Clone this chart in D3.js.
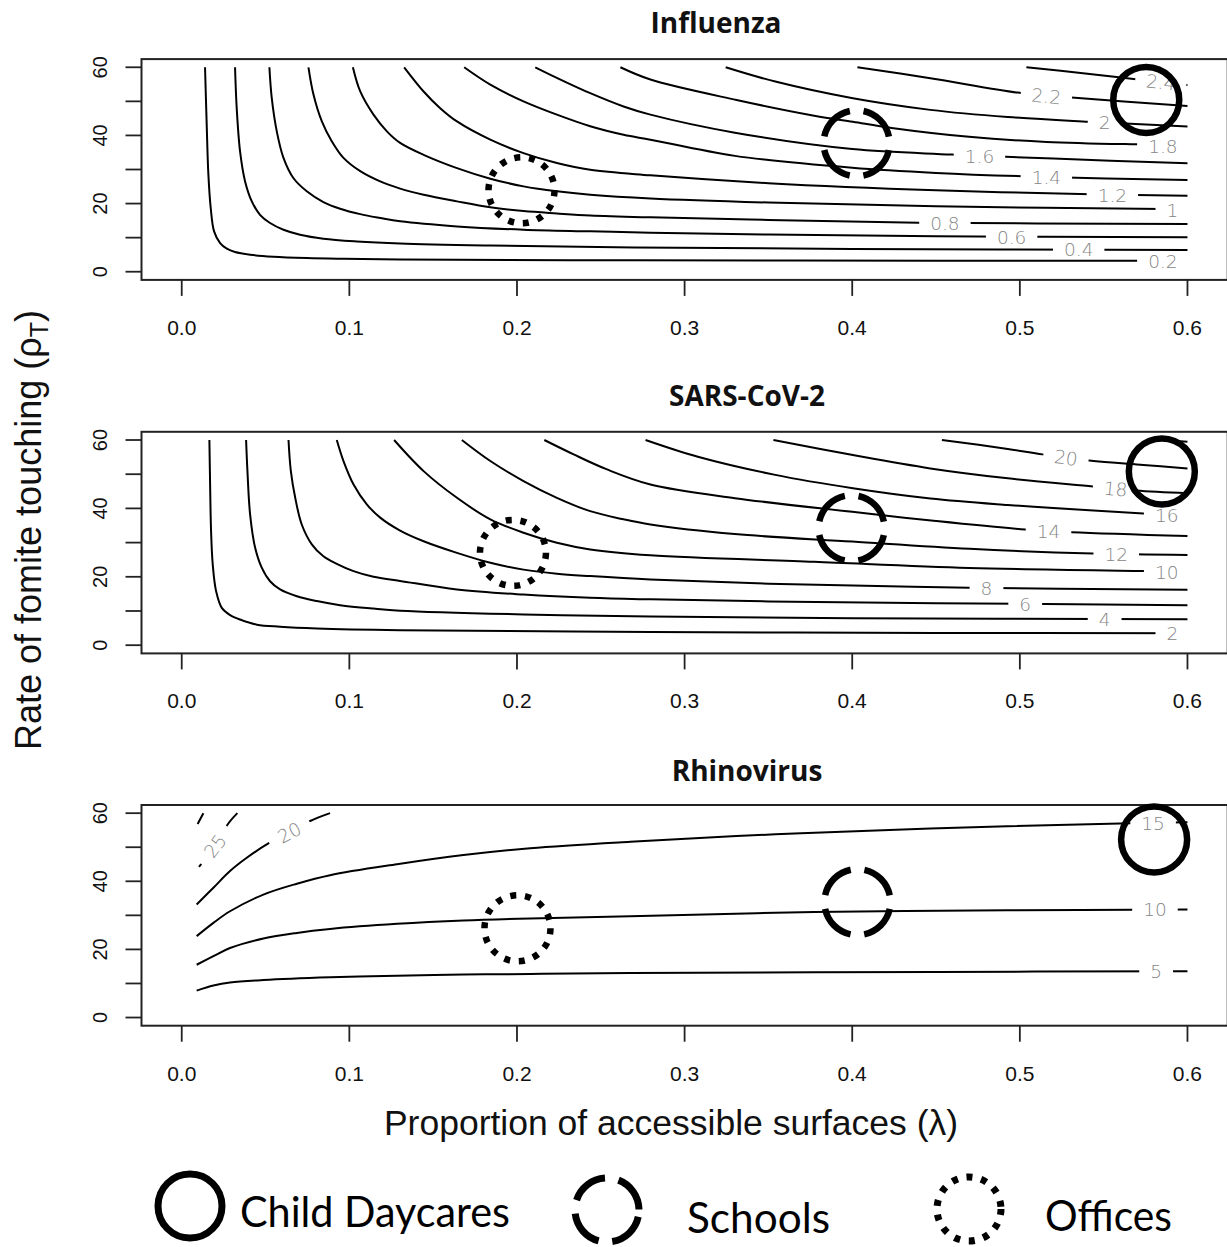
<!DOCTYPE html>
<html><head><meta charset="utf-8">
<script src="https://cdn.jsdelivr.net/npm/d3@7"></script>
<style>body{margin:0;background:#fff}svg{display:block}</style>
</head><body>
<svg id="c" width="1227" height="1247"></svg>
<script>
// ---------------- data ----------------
const xTicks = [0, 0.1, 0.2, 0.3, 0.4, 0.5, 0.6];
const yTicks = [0, 10, 20, 30, 40, 50, 60];
const yTickLabels = [0, 20, 40, 60];
const panelTitles = ["Influenza", "SARS-CoV-2", "Rhinovirus"];
const settingNames = ["Child Daycares", "Schools", "Offices"];
const xAxisTitle = "Proportion of accessible surfaces (\u03bb)";

// Influenza contours: [lambda, rho] points per level
const fluLevels = [0.2, 0.4, 0.6, 0.8, 1, 1.2, 1.4, 1.6, 1.8, 2, 2.2, 2.4];
const fluLines = [
  [[.0139,60],[.0149,43.1],[.0159,28.5],[.0173,18.7],[.0193,11.85],[.0229,8.4],[.0269,6.76],[.0318,5.78],[.0408,5.0],[.0547,4.4],[.0746,4.0],[.0945,3.8],[.1303,3.6],[.27,3.35],[.45,3.25],[.6,3.2]],
  [[.0318,60],[.0328,48.0],[.0348,35.3],[.0378,26.5],[.0418,20.65],[.0467,16.7],[.0527,14.3],[.0607,12.33],[.0706,10.87],[.0845,9.7],[.1045,8.9],[.1303,8.3],[.1841,7.7],[.27,7.1],[.4,6.7],[.6,6.4]],
  [[.0523,60],[.0537,51.0],[.0567,41.2],[.0607,33.4],[.0666,27.5],[.0746,23.6],[.0845,20.45],[.0945,18.5],[.1065,16.9],[.1184,15.76],[.1303,14.78],[.1642,13.3],[.2039,12.33],[.2437,11.85],[.2796,11.45],[.35,10.9],[.45,10.4],[.6,10.1]],
  [[.0756,60],[.0786,52.0],[.0836,44.1],[.0895,38.3],[.0965,33.4],[.1065,29.5],[.1184,26.5],[.1303,24.4],[.1443,22.6],[.1642,20.65],[.1841,18.9],[.2039,17.8],[.2238,17.1],[.2437,16.5],[.2796,15.95],[.35,15.2],[.4396,14.4],[.6,14.0]],
  [[.1021,60],[.1065,52.9],[.1144,46.1],[.1224,41.2],[.1303,37.8],[.1443,34.3],[.1642,30.4],[.1841,27.3],[.2039,25.05],[.2238,23.6],[.2437,22.6],[.2796,21.5],[.35,20.3],[.45,19.2],[.6,18.3]],
  [[.1327,60],[.1443,52.9],[.1542,48.0],[.1642,44.1],[.1841,38.75],[.2039,34.8],[.2238,31.9],[.2437,29.9],[.2796,28.3],[.35,26.0],[.45,23.9],[.555,22.6],[.6,22.3]],
  [[.1685,60],[.1841,54.9],[.2039,50.0],[.2238,46.1],[.2437,42.7],[.2636,40.2],[.2796,38.75],[.33,34.0],[.40,30.5],[.45,29.0],[.5158,27.8],[.6,26.9]],
  [[.2109,60],[.2238,56.9],[.2437,52.4],[.2636,48.5],[.2796,46.1],[.33,40.8],[.40,36.0],[.4593,34.4],[.52,33.2],[.6,31.8]],
  [[.2617,60],[.2796,56.4],[.331,50.4],[.3773,45.8],[.4004,44.0],[.4235,42.2],[.4697,39.6],[.5159,38.1],[.5691,37.4],[.6,37.2]],
  [[.3245,60],[.3541,55.8],[.4004,50.9],[.4466,47.5],[.4928,45.4],[.5413,44.0],[.6,42.6]],
  [[.4031,60],[.4466,56.8],[.4998,52.5],[.5309,51.1],[.6,48.6]],
  [[.5039,60],[.5390,58.2],[.5691,56.5],[.6,54.8]]
];
const fluLabelAt = [[.5853,3.1],[.5351,6.5],[.4951,10.2],[.4553,14.3],[.5910,18.1],[.5552,22.5],[.5158,27.7],[.4759,34.0],[.5853,36.9],[.5506,43.7],[.5158,51.5],[.5841,55.6]];
const fluSettings = [[.5754,50.4],[.4026,37.7],[.2027,23.9]];

// SARS-CoV-2 contours
const covLevels = [2, 4, 6, 8, 10, 12, 14, 16, 18, 20, 22];
const covLines = [
  [[.0165,60],[.0169,48.0],[.0175,33.4],[.0185,23.6],[.0205,15.8],[.0239,10.9],[.0289,8.8],[.0348,7.5],[.0448,6.0],[.0587,5.4],[.0806,4.9],[.1303,4.4],[.28,3.85],[.45,3.6],[.6,3.5]],
  [[.0384,60],[.0392,50.9],[.0408,38.2],[.0438,28.5],[.0478,22.6],[.0527,18.7],[.0587,16.3],[.0687,14.3],[.0806,12.9],[.0945,11.7],[.1144,10.7],[.1303,10.1],[.2039,9.0],[.2796,8.4],[.40,7.9],[.6,7.6]],
  [[.0637,60],[.0651,50.9],[.0677,43.1],[.0716,35.3],[.0776,29.5],[.0845,26.0],[.0925,23.8],[.1025,21.65],[.1144,20.0],[.1303,18.8],[.1642,16.3],[.2039,14.8],[.2437,13.85],[.2796,13.4],[.35,12.8],[.45,12.3],[.6,11.7]],
  [[.0925,60],[.0965,53.85],[.1025,47.0],[.1104,41.2],[.1184,37.3],[.13,33.6],[.1443,30.4],[.1642,27.0],[.1841,24.1],[.2039,22.1],[.2238,20.9],[.2437,20.2],[.2796,19.2],[.35,18.0],[.4697,16.8],[.6,16.2]],
  [[.1267,60],[.1443,50.9],[.1642,43.1],[.1841,36.8],[.2039,32.9],[.2238,29.95],[.2437,28.0],[.2796,26.3],[.3773,24.4],[.4697,22.6],[.5737,21.7],[.6,21.5]],
  [[.1671,60],[.1841,53.85],[.2039,48.0],[.2238,43.1],[.2437,39.2],[.2636,36.8],[.2796,35.3],[.33,32.5],[.40,30.3],[.47,28.2],[.5436,26.8],[.6,26.4]],
  [[.2163,60],[.2338,55.8],[.2537,51.4],[.2796,47.0],[.33,43.0],[.40,39.0],[.45,36.3],[.5032,33.8],[.5309,33.0],[.6,31.9]],
  [[.2767,60],[.3079,55.1],[.3541,49.8],[.4004,45.9],[.4466,42.9],[.4928,41.0],[.539,39.5],[.5737,38.5],[.6,37.8]],
  [[.353,60],[.4004,55.6],[.4466,51.7],[.4928,48.8],[.5436,46.4],[.5691,45.2],[.6,44.4]],
  [[.4535,60],[.4928,57.4],[.5136,55.8],[.5413,54.0],[.5737,52.7],[.6,51.7]],
  [[.5853,60],[.6,59.5]]
];
const covLabelAt = [[.5910,3.4],[.5506,7.6],[.5032,12.0],[.4801,16.7],[.5876,21.4],[.5575,26.6],[.5171,33.3],[.5876,37.9],[.5571,45.7],[.5275,54.8],null];
const covSettings = [[.5847,50.8],[.3996,34.2],[.1976,27.0]];

// Rhinovirus contours
const rhiLevels = [5, 10, 15, 20, 25, 30];
const rhiLines = [
  [[.0089,7.9],[.0189,9.4],[.0288,10.3],[.0487,11.0],[.0885,11.8],[.1284,12.3],[.1681,12.6],[.2079,12.8],[.2676,13.1],[.45,13.4],[.6,13.6]],
  [[.0089,15.5],[.0189,18.0],[.0288,20.4],[.0487,23.2],[.0687,24.85],[.0885,26.0],[.1284,27.5],[.1681,28.5],[.2079,29.1],[.2676,29.7],[.3773,31.0],[.4928,31.5],[.6,31.7]],
  [[.0089,23.9],[.0189,27.8],[.0288,31.2],[.0487,36.1],[.0687,39.3],[.0885,41.8],[.1284,45.0],[.1681,47.7],[.2079,49.7],[.2676,51.6],[.3541,53.8],[.4466,55.5],[.5598,57.0],[.6,57.3]],
  [[.0089,33.2],[.0189,38.1],[.0288,43.0],[.0388,46.9],[.0517,51.1],[.0643,54.3],[.0766,57.7],[.0885,60]],
  [[.0103,44.2],[.0199,50.4],[.0278,56.96],[.0332,60]],
  [[.0095,56.8],[.0129,60]]
];
const rhiLabelAt = [[.5813,13.5],[.5806,31.7],[.5795,57.1],[.0643,54.3],[.0199,50.4],null];
const rhiSettings = [[.5801,52.3],[.4031,33.9],[.2003,26.2]];

// ---------------- layout ----------------
const svg = d3.select("#c");
const FONT = "'Liberation Sans', Arial, sans-serif";
const x = d3.scaleLinear().domain([-0.024, 0.624]).range([141.5, 1227.7]);

const panels = [
  {title: panelTitles[0], levels: fluLevels, lines: fluLines, labelAt: fluLabelAt, marks: fluSettings, top: 59.1, bottom: 279.9, tx: 716, ty: 33},
  {title: panelTitles[1], levels: covLevels, lines: covLines, labelAt: covLabelAt, marks: covSettings, top: 431.8, bottom: 653.4, tx: 747, ty: 406},
  {title: panelTitles[2], levels: rhiLevels, lines: rhiLines, labelAt: rhiLabelAt, marks: rhiSettings, top: 805, bottom: 1025.7, tx: 747, ty: 781}
];

const markStyles = [
  {dash: null, cap: "butt"},
  {dash: "38 13.8", off: 44.9, cap: "butt"},
  {dash: "6 8.8", off: 0, cap: "butt"}
];
function drawMarker(g, cx, cy, k, r, sw) {
  const s = markStyles[k];
  const c = g.append("circle").attr("cx", cx).attr("cy", cy).attr("r", r)
    .attr("fill", "none").attr("stroke", "#000").attr("stroke-width", sw)
    .attr("stroke-linecap", s.cap);
  if (s.dash) c.attr("stroke-dasharray", s.dash).attr("stroke-dashoffset", s.off);
}

const defs = svg.append("defs");

panels.forEach((p, i) => {
  const y = d3.scaleLinear().domain([-2.4, 62.4]).range([p.bottom, p.top]);
  const g = svg.append("g");
  const x0 = x.range()[0], x1 = x.range()[1];

  defs.append("clipPath").attr("id", "clip" + i).append("rect")
    .attr("x", x0).attr("y", p.top).attr("width", x1 - x0).attr("height", p.bottom - p.top);

  // title
  g.append("text").attr("x", p.tx).attr("y", p.ty).attr("text-anchor", "middle")
    .attr("font-family", "'Open Sans', sans-serif").attr("font-weight", 700)
    .attr("font-size", 28).attr("fill", "#111").text(p.title);

  // contours
  const cg = g.append("g").attr("clip-path", `url(#clip${i})`);
  const line = d3.line().x(d => x(d[0])).y(d => y(d[1])).curve(d3.curveCatmullRom.alpha(0.5));
  p.lines.forEach(pts => {
    cg.append("path").attr("d", line(pts)).attr("fill", "none")
      .attr("stroke", "#000").attr("stroke-width", 2);
  });

  // contour labels
  p.levels.forEach((lv, k) => {
    const at = p.labelAt[k];
    if (!at) return;
    const px = x(at[0]), py = y(at[1]);
    const pts = p.lines[k].map(d => [x(d[0]), y(d[1])]);
    let ang = 0;
    for (let j = 0; j < pts.length - 1; j++) {
      if (pts[j][0] <= px && pts[j + 1][0] >= px) {
        ang = Math.atan2(pts[j + 1][1] - pts[j][1], pts[j + 1][0] - pts[j][0]) * 180 / Math.PI;
        break;
      }
    }
    if (Math.abs(ang) < 4) ang = 0;
    const lg = cg.append("g").attr("transform", `translate(${px},${py}) rotate(${ang})`);
    const t = lg.append("text").attr("text-anchor", "middle").attr("dy", "0.36em")
      .attr("font-family", "'DejaVu Sans', sans-serif").attr("font-weight", 200)
      .attr("font-size", 18.5).attr("fill", "#858585").text(String(lv));
    const bb = t.node().getBBox();
    lg.insert("rect", "text").attr("x", bb.x - 11).attr("y", -5)
      .attr("width", bb.width + 22).attr("height", 10).attr("fill", "#fff");
  });

  // box
  g.append("rect").attr("x", x0).attr("y", p.top).attr("width", x1 - x0).attr("height", p.bottom - p.top)
    .attr("fill", "none").attr("stroke", "#222").attr("stroke-width", 2);

  // x axis ticks
  xTicks.forEach(t => {
    g.append("line").attr("x1", x(t)).attr("x2", x(t)).attr("y1", p.bottom).attr("y2", p.bottom + 16)
      .attr("stroke", "#222").attr("stroke-width", 1.8);
    g.append("text").attr("x", x(t)).attr("y", p.bottom + 55).attr("text-anchor", "middle")
      .attr("font-family", FONT).attr("font-size", 21).attr("fill", "#111").text(d3.format(".1f")(t));
  });
  // y axis ticks
  yTicks.forEach(t => {
    g.append("line").attr("x1", x0 - 16).attr("x2", x0).attr("y1", y(t)).attr("y2", y(t))
      .attr("stroke", "#222").attr("stroke-width", 1.8);
  });
  yTickLabels.forEach(t => {
    g.append("text").attr("transform", `translate(107,${y(t)}) rotate(-90)`).attr("text-anchor", "middle")
      .attr("font-family", FONT).attr("font-size", 20).attr("fill", "#111").text(t);
  });

  // setting markers
  p.marks.forEach((m, k) => drawMarker(g, x(m[0]), y(m[1]), k, 33, 6.5));
});

// y axis title
const yt = svg.append("text").attr("transform", "translate(41,530) rotate(-90)").attr("text-anchor", "middle")
  .attr("font-family", FONT).attr("font-size", 36).attr("fill", "#111");
yt.append("tspan").text("Rate of fomite touching (\u03c1");
yt.append("tspan").attr("font-size", 25).attr("dy", 7).text("T");
yt.append("tspan").attr("dy", -7).text(")");

// x axis title
svg.append("text").attr("x", 671).attr("y", 1135).attr("text-anchor", "middle")
  .attr("font-family", FONT).attr("font-size", 35.5).attr("fill", "#111").text(xAxisTitle);

// legend
const legendCircles = [[190, 1206], [607, 1210], [969, 1209]];
const legendText = [[240, 1227, 270], [687, 1233, 143], [1045, 1231, 127]];
settingNames.forEach((name, k) => {
  drawMarker(svg, legendCircles[k][0], legendCircles[k][1], k, 32, 7);
  svg.append("text").attr("x", legendText[k][0]).attr("y", legendText[k][1])
    .attr("font-family", "Lato, 'Open Sans', sans-serif").attr("font-size", 42).attr("fill", "#000")
    .attr("textLength", legendText[k][2]).attr("lengthAdjust", "spacingAndGlyphs").text(name);
});
</script>
</body></html>
